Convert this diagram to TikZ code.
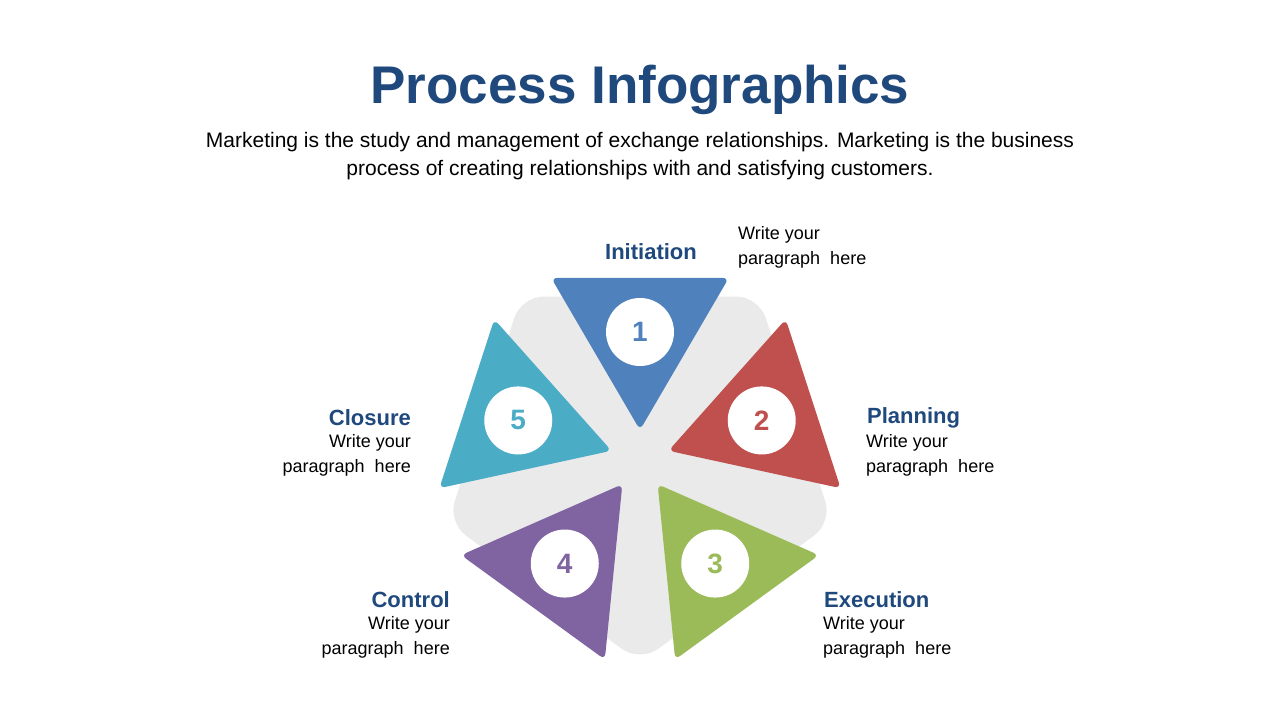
\documentclass[tikz,border=0pt]{standalone}
\usepackage{fontspec}
\setmainfont{Liberation Sans}
\usetikzlibrary{calc}
\begin{document}
\begin{tikzpicture}[x=1pt,y=1pt,
  ttl/.style={font=\fontsize{22}{26}\selectfont\bfseries,text=titleblue,inner sep=0},
  body/.style={font=\fontsize{18}{25}\selectfont,inner sep=0,align=left},
  num/.style={circle,fill=white,minimum size=68pt,inner sep=0,font=\fontsize{28}{30}\selectfont\bfseries}]
\definecolor{titleblue}{HTML}{1F497D}
\definecolor{c1}{HTML}{4F81BD}
\definecolor{c2}{HTML}{C0504D}
\definecolor{c3}{HTML}{9BBB59}
\definecolor{c4}{HTML}{8064A2}
\definecolor{c5}{HTML}{4BACC6}
\definecolor{pent}{HTML}{EAEAEA}
\useasboundingbox (0,0) rectangle (1280,720);
\fill[white] (0,0) rectangle (1280,720);
\coordinate (O) at (640,260);
\node[inner sep=0,text=titleblue,font=\fontsize{53}{60}\selectfont\bfseries] (title) at (640,630) {Process Infographics};
\node[inner sep=0,align=center,font=\fontsize{21}{28}\selectfont] (sub) at (640,564) {Marketing is the study and management of exchange relationships. Marketing is the business\\process of creating relationships with and satisfying customers.};
\fill[pent,rounded corners=22pt] ($(O)+(-90:202)$) -- ($(O)+(-18:202)$) -- ($(O)+(54:202)$) -- ($(O)+(126:202)$) -- ($(O)+(198:202)$) -- cycle;
\foreach \a/\c/\n in {90/c1/1,18/c2/2,-54/c3/3,-126/c4/4,162/c5/5}{
  \fill[\c,rounded corners=6pt] ($(O)+(\a:30)$) -- ($(O)+(\a+26:202.6)$) -- ($(O)+(\a-26:202.6)$) -- cycle;
  \node[num,text=\c] (n\n) at ($(O)+(\a:128)$) {\n};
}
\node[ttl] (t1) at (651,468) {Initiation};
\node[body,anchor=north west] (b1) at (738,494) {Write your\\paragraph\ \ here};
\node[ttl,anchor=west] (t2) at (867,302) {Planning};
\node[body,anchor=north west] (b2) at (866,286) {Write your\\paragraph\ \ here};
\node[ttl,anchor=west] (t3) at (824,120) {Execution};
\node[body,anchor=north west] (b3) at (823,104) {Write your\\paragraph\ \ here};
\node[ttl,anchor=east] (t4) at (450,120) {Control};
\node[body,anchor=north east,align=right] (b4) at (450,104) {Write your\\paragraph\ \ here};
\node[ttl,anchor=east] (t5) at (411,302) {Closure};
\node[body,anchor=north east,align=right] (b5) at (411,286) {Write your\\paragraph\ \ here};
\end{tikzpicture}
\end{document}
